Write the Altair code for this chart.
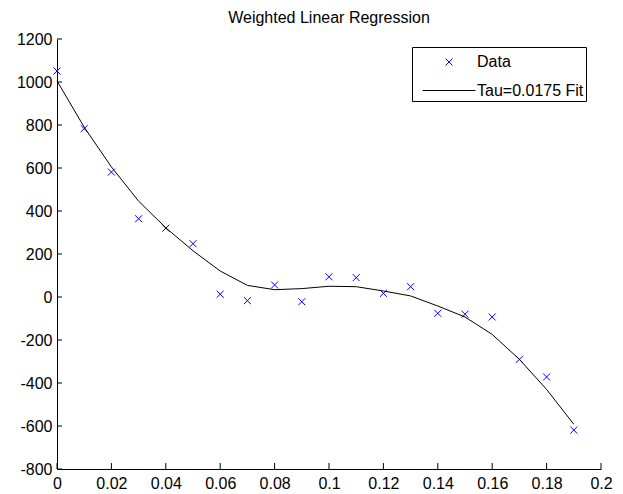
import altair as alt
import pandas as pd

# ---- data ----
x_data = [0, 0.01, 0.02, 0.03, 0.04, 0.05, 0.06, 0.07, 0.08, 0.09,
          0.10, 0.11, 0.12, 0.13, 0.14, 0.15, 0.16, 0.17, 0.18, 0.19]
y_data = [1051, 783, 581, 364, 320, 248, 13, -17, 56, -22,
          94, 90, 17, 48, -76, -80, -93, -290, -372, -619]
y_fit = [1005, 790, 605, 446, 322, 215, 121, 54, 34, 39,
         50, 48, 28, 5, -42, -93, -174, -290, -430, -592]
x_ticks = [0, 0.02, 0.04, 0.06, 0.08, 0.1, 0.12, 0.14, 0.16, 0.18, 0.2]
y_ticks = [-800, -600, -400, -200, 0, 200, 400, 600, 800, 1000, 1200]
series_names = ["Data", "Tau=0.0175 Fit"]
title_text = "Weighted Linear Regression"

FONT = "Liberation Sans"
X_MARK = "M-0.132,-0.132L0.132,0.132M-0.132,0.132L0.132,-0.132"

data_df = pd.DataFrame({"x": x_data, "y": y_data, "series": series_names[0]})
fit_df = pd.DataFrame({"x": x_data, "y": y_fit, "series": series_names[1]})
xt_df = pd.DataFrame({"x": x_ticks})
yt_df = pd.DataFrame({"y": y_ticks})

x_scale = alt.Scale(domain=[0, 0.2], nice=False, zero=False)
y_scale = alt.Scale(domain=[-800, 1200], nice=False, zero=False)

x_axis = alt.Axis(title="", values=x_ticks, ticks=False, grid=False,
                  domainColor="black", domainWidth=1,
                  labelFont=FONT, labelFontSize=16, labelColor="black",
                  labelPadding=6, labelFlush=False,
                  labelExpr="toString(datum.value)")
y_axis = alt.Axis(title="", values=y_ticks, ticks=False, grid=False,
                  domainColor="black", domainWidth=1,
                  labelFont=FONT, labelFontSize=16, labelColor="black",
                  labelPadding=5, labelFlush=False,
                  labelExpr="toString(datum.value)")

color_scale = alt.Scale(domain=series_names, range=["blue", "black"])
shape_scale = alt.Scale(domain=series_names, range=[X_MARK, "stroke"])

legend = alt.Legend(orient="none", legendX=355, legendY=8, title=" ",
                    titleFontSize=4, titlePadding=0.5,
                    symbolSize=2809, clipHeight=16, rowPadding=12.5,
                    padding=2.5, strokeColor="black", fillColor="white",
                    cornerRadius=0, labelFont=FONT, labelFontSize=16,
                    labelColor="black", symbolStrokeWidth=1,
                    symbolOffset=7.5, labelOffset=1,
                    labelExpr="datum.label + ' '")

X = alt.X("x:Q", scale=x_scale, axis=x_axis)
Y = alt.Y("y:Q", scale=y_scale, axis=y_axis)

points = alt.Chart(data_df).mark_point(
    filled=False, size=2809, strokeWidth=1, opacity=1
).encode(
    x=X, y=Y,
    color=alt.Color("series:N", scale=color_scale, legend=legend),
    shape=alt.Shape("series:N", scale=shape_scale, legend=legend),
)

line = alt.Chart(fit_df).mark_line(strokeWidth=1).encode(
    x=X, y=Y,
    color=alt.Color("series:N", scale=color_scale, legend=legend),
)

xticks = alt.Chart(xt_df).mark_rule(color="black", strokeWidth=1).encode(
    x=X, y=alt.value(430), y2=alt.value(424)
)
yticks = alt.Chart(yt_df).mark_rule(color="black", strokeWidth=1).encode(
    y=Y, x=alt.value(0), x2=alt.value(5)
)

chart = alt.layer(points, line, xticks, yticks).properties(
    width=544, height=430,
    autosize=alt.AutoSizeParams(type="none"),
    padding={"left": 49, "top": 31, "right": 14, "bottom": 25},
    title=alt.TitleParams(text=title_text, font=FONT, fontSize=16,
                          fontWeight="normal", color="black",
                          anchor="middle", offset=5),
    background="white",
).configure_view(stroke="transparent")

chart.save("out.html", embed_options={"renderer": "svg", "actions": False})
